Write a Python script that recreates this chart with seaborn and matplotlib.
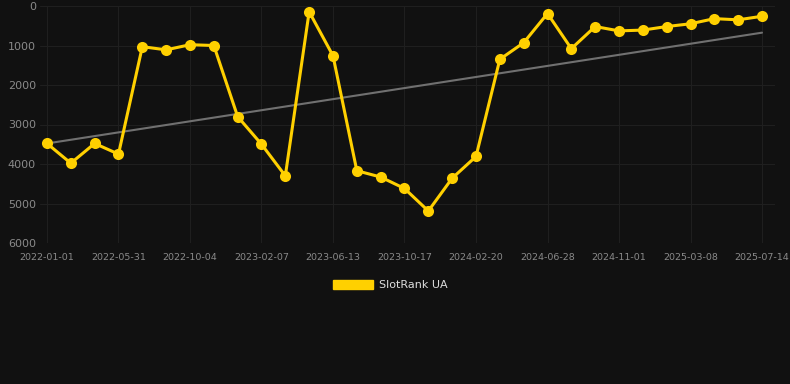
import numpy as np
import pandas as pd
import matplotlib
matplotlib.use("Agg")
import matplotlib.pyplot as plt
import matplotlib.patches as mpatches
import seaborn as sns

dates = ["2022-01-01", "2022-02-20", "2022-04-11", "2022-05-31", "2022-07-12",
         "2022-08-23", "2022-10-04", "2022-11-15", "2022-12-27", "2023-02-07",
         "2023-03-21", "2023-05-02", "2023-06-13", "2023-07-25", "2023-09-05",
         "2023-10-17", "2023-11-28", "2024-01-09", "2024-02-20", "2024-04-02",
         "2024-05-15", "2024-06-28", "2024-08-09", "2024-09-20", "2024-11-01",
         "2024-12-13", "2025-01-24", "2025-03-08", "2025-04-19", "2025-06-01",
         "2025-07-14"]
rank = [3480, 3980, 3480, 3750, 1030, 1110, 980, 1000, 2800, 3500,
        4300, 145, 1260, 4170, 4330, 4620, 5190, 4360, 3810, 1350,
        930, 190, 1080, 520, 630, 610, 520, 450, 320, 350, 260]
trend_start = 3480
trend_end = 675

bg = "#111111"
grid_c = "#1f1f1f"
yellow = "#ffd000"

sns.set_style("dark", {"axes.facecolor": bg, "figure.facecolor": bg})
plt.rcParams['font.family'] = ['DejaVu Sans']

df = pd.DataFrame({"idx": np.arange(len(dates)), "date": dates, "rank": rank})
df["trend"] = np.linspace(trend_start, trend_end, len(df))

fig = plt.figure(figsize=(7.9, 3.84), dpi=100)
ax = fig.add_axes([40 / 790, 1 - 243 / 384, 735 / 790, 237 / 384])
ax.set_facecolor(bg)

# trend line under the rank series
sns.lineplot(data=df, x="idx", y="trend", ax=ax, color="#707070", linewidth=1.5, zorder=2)
sns.lineplot(data=df, x="idx", y="rank", ax=ax, color=yellow, linewidth=2.2,
             marker="o", markersize=8, markeredgewidth=0, zorder=3)

ax.set_xlim(-0.293, 30.545)
ax.set_ylim(6000, 0)
ax.set_yticks(range(0, 6001, 1000))
ax.set_yticklabels([str(v) for v in range(0, 6001, 1000)])
ax.set_xticks(df["idx"][::3])
ax.set_xticklabels(df["date"][::3])
ax.set_xlabel("")
ax.set_ylabel("")

ax.grid(True, color=grid_c, linewidth=0.8)
for s in ax.spines.values():
    s.set_visible(False)
ax.tick_params(axis="y", colors="#8a8a8a", labelsize=8, length=0, pad=3)
ax.tick_params(axis="x", colors=grid_c, labelcolor="#8a8a8a", labelsize=6.8,
               length=5, width=0.8, pad=2)

handle = mpatches.Patch(color=yellow, label="SlotRank UA")
leg = fig.legend(handles=[handle], loc="center", bbox_to_anchor=(0.494, 0.258),
                 frameon=False, fontsize=8, handlelength=3.6, handleheight=1.0,
                 handletextpad=0.5)
for t in leg.get_texts():
    t.set_color("#dddddd")

fig.savefig("out.png", dpi=100, facecolor=bg)
